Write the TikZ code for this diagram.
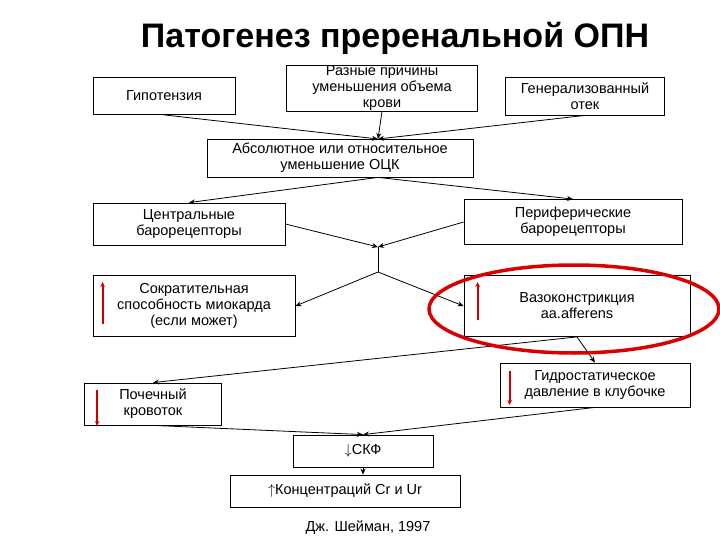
\documentclass[tikz,border=0pt]{standalone}
\usepackage{fontspec}
\setmainfont{Liberation Sans}
\usetikzlibrary{arrows.meta}
\begin{document}
\begin{tikzpicture}[x=1pt,y=-1pt,
  bx/.style={draw,thick,fill=white,align=center,font=\fontsize{14.5}{16}\selectfont,inner sep=0pt},
  ar/.style={thick,-{Stealth[length=6pt,width=5pt]}},
  ra/.style={red!80!black,line width=2pt,-{Stealth[length=5pt,width=4.5pt]}}]
\useasboundingbox (0,0) rectangle (720,540);
\node[font=\bfseries\fontsize{34}{36}\selectfont] (title) at (395,38) {Патогенез преренальной ОПН};
\node[bx,minimum width=142pt,minimum height=37pt] (hyp) at (164,96) {Гипотензия};
\node[bx,minimum width=191pt,minimum height=46pt] (raz) at (382,88) {Разные причины\\уменьшения объема\\крови};
\node[bx,minimum width=159pt,minimum height=38pt] (gen) at (585,96) {Генерализованный\\отек};
\node[bx,minimum width=266pt,minimum height=38pt] (abs) at (340,158) {Абсолютное или относительное\\уменьшение ОЦК};
\node[bx,minimum width=192pt,minimum height=42pt] (cen) at (189,224) {Центральные\\барорецепторы};
\node[bx,minimum width=218pt,minimum height=45pt] (per) at (573,222) {Периферические\\барорецепторы};
\node[bx,minimum width=202pt,minimum height=61pt] (sok) at (194,306) {Сократительная\\способность миокарда\\(если может)};
\node[bx,minimum width=226pt,minimum height=61pt] (vaz) at (577,306) {Вазоконстрикция\\aa.afferens};
\node[bx,minimum width=137pt,minimum height=42pt] (poch) at (153,404) {Почечный\\кровоток};
\node[bx,minimum width=190pt,minimum height=44pt] (gid) at (595,385) {Гидростатическое\\давление в клубочке};
\node[bx,minimum width=140pt,minimum height=32pt] (skf) at (363,451) {$\downarrow$СКФ};
\node[bx,minimum width=230pt,minimum height=32pt] (kon) at (345,491) {$\uparrow$Концентраций Cr и Ur};
\node[font=\fontsize{14.5}{16}\selectfont] (cit) at (368,528) {Дж. Шейман, 1997};
\coordinate (j1) at (378,139);
\coordinate (j2) at (378,247);
\coordinate (j3) at (378,272);
\draw[ar] (hyp.south) -- (j1);
\draw[ar] (raz.south) -- (j1);
\draw[ar] (gen.south) -- (j1);
\draw[ar] (abs.south -| j1) -- (cen.north);
\draw[ar] (abs.south -| j1) -- (per.north);
\draw[ar] (cen.east) -- (j2);
\draw[ar] (per.west) -- (j2);
\draw[thick] (j2) -- (j3);
\draw[ar] (j3) -- (sok.east);
\draw[ar] (j3) -- (vaz.west);
\draw[ar] (vaz.south) -- (poch.north);
\draw[ar] (vaz.south) -- (gid.north);
\draw[ar] (poch.south) -- (skf.north);
\draw[ar] (gid.south) -- (skf.north);
\draw[ar] (skf.south) -- (skf.south |- kon.north);
\draw[ra] (sok.west)++(10,18) -- ++(0,-42) coordinate (r1);
\draw[ra] (vaz.west)++(14,14) -- ++(0,-38) coordinate (r2);
\draw[ra] (poch.west)++(13,-14) -- ++(0,36) coordinate (r3);
\draw[ra] (gid.west)++(10,-14) -- ++(0,34) coordinate (r4);
\draw[red!85!black,line width=3.5pt] (574,309) ellipse [x radius=145pt,y radius=44pt];
\end{tikzpicture}
\end{document}
